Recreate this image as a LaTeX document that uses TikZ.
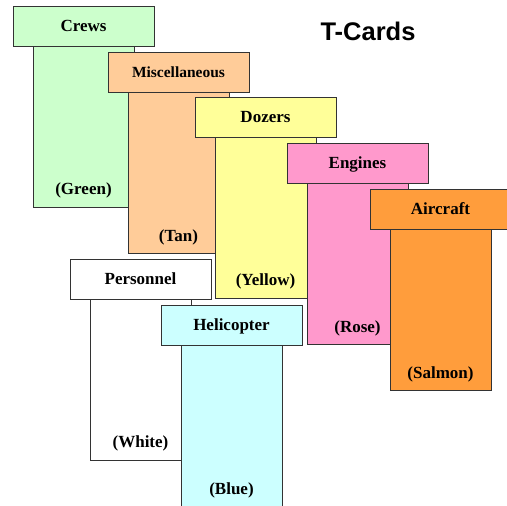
\documentclass[tikz,border=0pt]{standalone}
\usepackage{fontspec}
\usepackage{xcolor}
\usepackage{tikz}
\setmainfont{Liberation Serif}
\newfontfamily\titlefont{Liberation Sans}

\definecolor{cgreen}{HTML}{CCFFCC}
\definecolor{ctan}{HTML}{FFCC99}
\definecolor{cyellow}{HTML}{FFFF99}
\definecolor{crose}{HTML}{FF99CC}
\definecolor{csalmon}{HTML}{FF9D3C}
\definecolor{cblue}{HTML}{CCFFFF}

\tikzset{
  cardhead/.style={rectangle, draw=black!80, line width=0.8pt, minimum width=141pt,
    minimum height=40pt, inner sep=0pt, text height=11.5pt, text depth=0.3pt,
    font=\bfseries\fontsize{17}{20}\selectfont},
  cardbody/.style={rectangle, draw=black!80, line width=0.8pt, minimum width=101pt,
    minimum height=161pt, inner sep=0pt, anchor=north},
  cardlbl/.style={font=\bfseries\fontsize{17}{20}\selectfont}
}

\begin{document}
\begin{tikzpicture}[x=1pt,y=-1pt]
            \useasboundingbox (0,0) rectangle (507,506);
            \clip (0,0) rectangle (507,506);

            % Title
            \node[font=\titlefont\bfseries\fontsize{25.5}{30}\selectfont] (title) at (368,31) {T-Cards};

            % Crews
            \node[cardbody, fill=cgreen] (b1) at (83.5,46) {};
            \node[cardhead, fill=cgreen] (h1) at (83.5,26) {Crews};
            \node[cardlbl] (l1) at ([yshift=17pt]b1.south) {(Green)};

            % Miscellaneous
            \node[cardbody, fill=ctan] (b2) at (178.5,92) {};
            \node[cardhead, fill=ctan, font=\bfseries\fontsize{15.5}{18}\selectfont] (h2) at (178.5,72) {Miscellaneous};
            \node[cardlbl] (l2) at ([yshift=16pt]b2.south) {(Tan)};

            % Dozers
            \node[cardbody, fill=cyellow] (b3) at (265.5,137) {};
            \node[cardhead, fill=cyellow] (h3) at (265.5,117) {Dozers};
            \node[cardlbl] (l3) at ([yshift=17pt]b3.south) {(Yellow)};

            % Engines
            \node[cardbody, fill=crose] (b4) at (357.5,183) {};
            \node[cardhead, fill=crose] (h4) at (357.5,163) {Engines};
            \node[cardlbl] (l4) at ([yshift=16pt]b4.south) {(Rose)};

            % Aircraft
            \node[cardbody, fill=csalmon] (b5) at (440.5,229) {};
            \node[cardhead, fill=csalmon] (h5) at (440.5,209) {Aircraft};
            \node[cardlbl] (l5) at ([yshift=16pt]b5.south) {(Salmon)};

            % Personnel
            \node[cardbody, fill=white] (b6) at (140.5,299) {};
            \node[cardhead, fill=white] (h6) at (140.5,279) {Personnel};
            \node[cardlbl] (l6) at ([yshift=17pt]b6.south) {(White)};

            % Helicopter
            \node[cardbody, fill=cblue] (b7) at (231.5,345) {};
            \node[cardhead, fill=cblue] (h7) at (231.5,325) {Helicopter};
            \node[cardlbl] (l7) at ([yshift=16pt]b7.south) {(Blue)};
        \end{tikzpicture}
\end{document}
